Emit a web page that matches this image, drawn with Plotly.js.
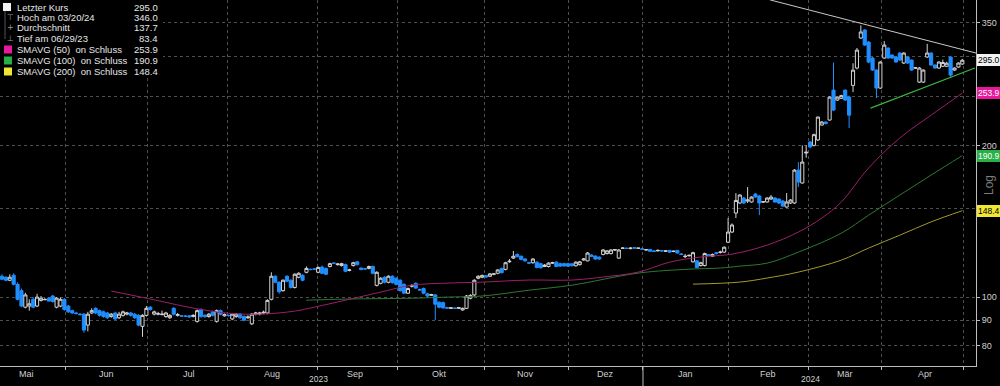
<!DOCTYPE html>
<html><head><meta charset="utf-8">
<script src="https://cdn.plot.ly/plotly-3.0.1.min.js"></script>
<style>html,body{margin:0;padding:0;background:#000;}#chart{width:1000px;height:386px;}</style>
</head><body><div id="chart"></div>
<script>
// Daily OHLC (trading-day index 0..246, early May 2023 .. end Apr 2024)
const openP = [110,109.5,108,110.5,106,103,95.5,96,99,96,98.5,98.8,99.5,100.5,95.5,96,99,
96,94,93,92.5,92.5,88,93,95,94,93.5,93,91.5,93,91,92,92.5,93,92.5,92,87.5,92,
95.5,92.5,92.5,92.3,91.5,91,95,92,91.8,91.7,91.8,91.5,89.5,94.5,92,91.5,93.5,89.5,94,91.8,
92,90.5,91.5,92.5,91.5,91,88.5,92.5,92.5,93,93,99,110,107,103,110,108,104.5,109.5,110.5,112,113.5,113.7,
112,114.7,114,115,116.8,116,115.5,116,113,115.5,117.5,114.2,113.8,114,115,105.5,106.5,109.5,107,110,
109,108,106,101.8,105,106.5,103.5,104,101.5,100.8,101,97.7,97.5,95.3,95,95.1,95,94.3,95,99.5,101,109,
109.5,110.3,110,111,111.5,114,113.5,117.5,119.5,121.5,120.5,119,117,117,117.3,116.5,115,115,116.8,117.3,116.5,116.5,
116.5,116.4,115.4,116,118.5,118,121.2,120.6,120,121.5,122,122,124,119.5,125,125,124.8,125.3,125,
124.6,124,124.3,123.5,123.5,123.6,123.3,123.8,123.2,123.8,121.8,120.3,120.8,117.5,118,115.5,115.5,121.3,120.5,122.5,122.7,122.8,
128.5,134.6,146.8,153.7,157.2,155.1,154.4,160.1,158.7,154.4,154.4,156.5,157.2,156.5,155.1,150.9,153.7,153.7,178.6,168.4,193.1,
203,200,205,219.4,222.5,224.5,257.4,246,248,257.4,249.3,263,284.7,326.6,338.8,320.6,298,282.1,259.8,
298,311.9,302.1,299.4,304.9,291.3,299.4,295.3,284.7,267,267,299.4,304.9,288.6,284.7,287,287,299.4,282.1,286,290];
const highP = [111,110,111,111.5,107,104,102,99,100,101.5,100.5,99.6,100,101,100,99.8,99.5,
96.5,94.5,93.5,93,93,93.5,95,95.5,94.5,94,93.5,93,93.5,93.5,94,93.5,93.5,93,92.5,92.5,96,
96,94,93.5,94,93.5,92.5,95.5,93,92,92,92,92.5,94.5,95,92.5,93,94,94.5,94.5,92.8,
92.3,93,93,93,92,92,93,93.5,93.5,94,99,112,110.5,107.5,108.5,110.5,108.5,111.5,112,111,115,114,114,
115,115.5,114.5,117,117,116.8,117,116.5,113.8,117.5,118,114.5,114,115.5,115.5,112.5,109.5,110,110.5,110.5,
109.5,108.5,106.5,104.5,106,107,104,104.5,102,101.5,101.5,98,98,95.6,95.5,95.3,95.6,95.3,101,101.3,108.5,110.5,
110.8,110.6,111.6,111.5,113.6,114.4,117.5,119,123.5,122,121,119.5,117.5,119.5,117.8,117,116.3,117.3,117.5,117.8,117,117,
117,116.8,117.8,118,119.5,122.8,121.6,121,120.5,124.5,124,124.5,124.5,124.5,125.5,125.3,125.5,125.6,125.3,
124.9,124.6,124.6,123.8,124.2,124,123.8,124,123.6,124,122.3,121.8,121.5,123,118.5,117.5,122.5,121.7,122,122.8,123.6,126,
143.5,140,160.8,160,158,165.3,158.5,160.8,159.4,155.1,157.9,159.4,157.9,157,155.8,160.8,156.5,179.5,185.3,200,200,
204,211,228,223.5,223,250,292,250,252,258,251,291,312,346,340,322,299.4,283,294,
322,313,303,300,306,306,300,296,286,286,283,318,306,289.5,293.5,296,293,300,285.5,292,297];
const lowP = [108,107.5,107.5,105.5,98.5,95.5,95,94,95,95.5,98,98.7,98,97.5,95,95.5,94,
93,92.5,92.3,92,85,85.5,92.5,92.5,91.5,91,90.5,91,90,90.5,91.5,92,91.5,90.5,87.5,83.4,91.5,
94,92,92,92,91,90.5,92,91.5,91.5,91.3,91,91.2,89,91,91,91,91.5,89,92,91.5,
91.5,90,91,90.5,89.5,90.5,88,92,92,92.5,92.5,98.5,106.5,101.5,102.5,107,104,104,109,107.5,111.5,113,113.2,
111.5,111,110.5,114.5,116.3,115.5,115,112,112.5,115,115.5,113,113.3,113.5,111,105,106,106.5,106.5,106.3,
105.5,102.5,101.5,101.5,104.5,103.8,103,101.3,100,100.5,90,95,94.8,94.8,94.7,94.8,94.7,94,94.8,99,100.5,108.5,
109,109.2,109.6,110.5,111,111.4,113,117,119,119.8,118.3,117.5,116.3,116.5,114,114,114.7,114.5,116.3,114.7,114.8,115,
114.8,115,115,115.5,118,117.8,120,118.6,118.5,121,121.5,121.5,123.5,119,124.6,124.6,124.4,124.8,124.7,
124.2,123.7,123,122.8,123.2,123.2,123,122.5,122.8,122,121.2,119.5,120.3,117,114,115,115,120.5,120.2,121.5,122,122.5,
128,134,143.5,153,153,153.7,154,157.5,145.4,153.7,154,156,154,153,151,150.5,153,153,165.3,168,189,
197.5,199,204,219,220,224,234,245,247,245,216.4,255,283,325,315,291,281,248.2,259,
297,297,297,292,294,290,290,281,283.5,266,266,298.5,288,284,284,286,286,273.2,281,285,289];
const closeP = [108.5,108,109.5,106,99,96,101,97,95.5,100,99.5,98.9,98.2,98,99.5,99,94.5,
93.5,93,92.8,92.3,86,92.5,94,93,92,91.5,91,92.5,90.5,92.5,93.5,93,92,91,88,92,95,
94.5,93.5,92.7,92.5,93,92,92.5,92.3,91.7,91.6,91.4,92,94,91.5,91.5,92.5,92,94,92.5,92.3,
91.9,92.5,92.5,91,90,91.3,92.5,93,93,93.3,98.5,110,107,102.5,108,107.5,104.5,111,111.5,108,114,113.4,113.6,
114.5,111.5,111,116.5,116.7,116.3,116.5,112.5,113.2,117,116,113.5,113.7,115,111.5,112,109,107,110,106.8,
106,103,101.8,104,105.5,104.2,103.3,101.8,100.5,101.2,96.8,95.5,95.2,95.1,95.2,95,95.3,95,100.5,100.8,108,110,
110.4,109.6,111.2,111.2,113.2,111.8,117,117.8,120.5,120.3,118.8,118,116.8,119,114.5,114.3,115.7,116.8,117,115,115.2,115.3,
115.2,115.4,117.3,117.5,119,122.3,120.4,119,119,124,123.5,124,124.2,124,125.1,124.9,125.1,125.1,125.05,
124.5,124.2,123.3,123.2,123.8,123.5,123.5,122.8,123.3,122.3,121.5,120.5,121,122.5,114.5,117,122,121,121.5,122,122.8,125.6,
134.6,139,155.5,159.4,153.7,155.8,157.9,158,153.7,154.6,157.2,157.9,154.4,153.7,151.6,154.4,155.8,178.6,169.1,185.3,193.8,
198.5,210,227.6,222.5,221,249.3,235,249.3,251,246,229.6,282,309,335.7,316.2,292.6,282.1,259.8,292.6,
316.2,298,298,292.6,295.3,304.9,291.3,282.1,285,284.7,282.1,304.9,288.6,284.7,292.6,292,291,275.7,284.7,291.3,295];
const dayIdx = closeP.map((_, i) => i);

// Moving averages (trading-day index, value)
const ma50X = [28,37,41,49,58,66,75,80,88,97,105,114,123,135,146,154,163,171,179,187,196,204,210,215,222,230,238,246];
const ma50Y = [102.8,99.5,98,95.1,92.9,92.5,93.8,95.5,98.6,102.3,105.6,106.6,107.1,108.1,108.1,109.6,112.1,117.3,120.1,121.7,126.8,134.6,143.5,154.4,180.4,206.9,229.6,253.9];
const ma100X = [78,88,105,114,123,135,146,163,176,184,189,196,204,215,222,230,238,246];
const ma100Y = [98.6,99.1,99.5,100,100.5,103.2,105.6,111.6,113.6,114.2,115.2,116.8,122.8,133.9,145.4,159.4,174.6,190.9];
const ma200X = [177,189,196,204,215,222,230,238,246];
const ma200Y = [106.1,107.1,109.1,112.1,118.4,125.1,132.7,141,148.4];

// Trend lines
const trendUpX = [196.7, 249.5];
const trendUpY = [388.8, 304.9];
const trendLowX = [222.5, 249.2];
const trendLowY = [237.1, 284.7];

// Axis labels
const monthLabels = ['Mai','Jun','Jul','Aug','Sep','Okt','Nov','Dez','Jan','Feb','Mär','Apr'];
const monthBounds = [16.4,37.2,57.9,80.7,101.4,123.5,145,164.2,186,206.7,225.4,246.4];
const monthMid = [6.2,26.9,47.9,69.2,90.4,112.2,134,154.5,175,196.2,216,236.4];
const yearLabels = ['2023','2024'];
const yearMid = [81,207];
const yTicks = [80,90,100,150,200,250,300,350];
const yTickText = ['80','90','100','','200','','','350'];

// Legend rows
const NB = '\u00a0';
const legendNames = ['Letzter Kurs','Hoch am 03/20/24','Durchschnitt','Tief am 06/29/23',
  'SMAVG (50)'+NB+NB+'on Schluss','SMAVG (100)'+NB+NB+'on Schluss','SMAVG (200)'+NB+NB+'on Schluss'];
const legendValues = ['295.0','346.0','137.7','83.4','253.9','190.9','148.4'];

const lastLabels = [
  {v:295.0, t:'295.0', bg:'#f2f2f2', fc:'#000'},
  {v:253.9, t:'253.9', bg:'#e8189c', fc:'#fff'},
  {v:190.9, t:'190.9', bg:'#27b045', fc:'#fff'},
  {v:148.4, t:'148.4', bg:'#f0e634', fc:'#000'}
];

const FONT = 'Liberation Sans, Arial, sans-serif';
const W = 976, H = 366;
const traces = [
  {type:'scatter', mode:'lines', x:ma200X, y:ma200Y, line:{color:'#a39a2c', width:1, shape:'spline'}, hoverinfo:'skip'},
  {type:'scatter', mode:'lines', x:ma100X, y:ma100Y, line:{color:'#2b7a2f', width:1, shape:'spline'}, hoverinfo:'skip'},
  {type:'scatter', mode:'lines', x:ma50X, y:ma50Y, line:{color:'#9c1f6b', width:1, shape:'spline'}, hoverinfo:'skip'},
  {type:'candlestick', x:dayIdx, open:openP, high:highP, low:lowP, close:closeP,
   increasing:{line:{color:'#d4d4d4', width:1}, fillcolor:'#000000'},
   decreasing:{line:{color:'#1f8fff', width:1}, fillcolor:'#1f8fff'},
   whiskerwidth:0, hoverinfo:'skip'},
  {type:'scatter', mode:'lines', x:trendUpX, y:trendUpY, line:{color:'#c8c8c8', width:1}, hoverinfo:'skip'},
  {type:'scatter', mode:'lines', x:trendLowX, y:trendLowY, line:{color:'#3cb43c', width:1.2}, hoverinfo:'skip'}
];

const annotations = [];
monthLabels.forEach((m,i)=>annotations.push({xref:'x', yref:'paper', x:monthMid[i], y:0, yanchor:'top', yshift:-1, text:m, showarrow:false, font:{family:FONT, size:9, color:'#cfcfcf'}}));
yearLabels.forEach((m,i)=>annotations.push({xref:'x', yref:'paper', x:yearMid[i], y:-20/H, yanchor:'bottom', yshift:0, text:m, showarrow:false, font:{family:FONT, size:8.5, color:'#cfcfcf'}}));
lastLabels.forEach(l=>annotations.push({xref:'paper', yref:'y', x:1, y:Math.log10(l.v), xanchor:'left', xshift:1, text:l.t, showarrow:false, bgcolor:l.bg, bordercolor:l.bg, borderpad:0, font:{family:FONT, size:8.5, color:l.fc}}));
annotations.push({xref:'paper', yref:'paper', x:1, y:1-185/H, xanchor:'center', xshift:13, text:'Log', textangle:-90, showarrow:false, font:{family:FONT, size:12, color:'#7d7d7d'}});
const rowY = [7,17.5,28,38.5,49.5,60.5,71.5];
legendNames.forEach((n,i)=>{
  annotations.push({xref:'paper', yref:'paper', x:15/W, y:1-rowY[i]/H, xanchor:'left', yanchor:'middle', text:n, showarrow:false, font:{family:FONT, size:9.5, color:'#e6e6e6'}});
  annotations.push({xref:'paper', yref:'paper', x:160/W, y:1-rowY[i]/H, xanchor:'right', yanchor:'middle', text:legendValues[i], showarrow:false, font:{family:FONT, size:9.5, color:'#e6e6e6'}});
});
['⊤','+','⊥'].forEach((g,i)=>annotations.push({xref:'paper', yref:'paper', x:10/W, y:1-rowY[i+1]/H, xanchor:'center', yanchor:'middle', text:g, showarrow:false, font:{family:'DejaVu Sans', size:8, color:'#9a9a9a'}}));

const sq = (x0,py,c)=>({type:'rect', xref:'paper', yref:'paper', x0:x0/W, x1:(x0+8)/W, y0:1-(py+4)/H, y1:1-(py-4)/H, fillcolor:c, line:{width:0}, layer:'above'});
const shapes = [
  {type:'rect', xref:'paper', yref:'paper', x0:0, x1:163/W, y0:1-78/H, y1:1, fillcolor:'#000', line:{width:0}, layer:'above'},
  {type:'line', xref:'paper', yref:'paper', x0:5/W, x1:5/W, y0:1-11/H, y1:1-39/H, line:{color:'#555', width:1}, layer:'above'},
  sq(3,rowY[0],'#f2f2f2'), sq(4,rowY[4],'#e8189c'), sq(4,rowY[5],'#27b045'), sq(4,rowY[6],'#f0e634'),
  {type:'line', xref:'x', yref:'paper', x0:164.2, x1:164.2, y0:0, y1:-20/H, line:{color:'#bdbdbd', width:1}}
];

const layout = {
  width:1000, height:386,
  paper_bgcolor:'#000', plot_bgcolor:'#000',
  margin:{l:0, r:24, t:0, b:20, pad:0},
  showlegend:false,
  boxgap:0.2, boxgroupgap:0,
  xaxis:{type:'linear', range:[-0.5,249.5], rangeslider:{visible:false}, tickvals:monthBounds, ticktext:monthBounds.map(()=>''),
    showgrid:true, gridcolor:'#4f4f4f', griddash:'dot', gridwidth:1, showline:true, linecolor:'#bdbdbd', linewidth:1,
    ticks:'outside', ticklen:3, tickcolor:'#bdbdbd', zeroline:false, fixedrange:true, automargin:false},
  yaxis:{type:'log', side:'right', range:[Math.log10(73.0), Math.log10(388.5)], tickvals:yTicks, ticktext:yTickText,
    showgrid:true, gridcolor:'#4f4f4f', griddash:'dot', gridwidth:1, showline:true, linecolor:'#bdbdbd', linewidth:1,
    ticks:'outside', ticklen:3, tickcolor:'#bdbdbd', tickfont:{family:FONT, size:9, color:'#cfcfcf'}, zeroline:false, automargin:false},
  annotations: annotations,
  shapes: shapes
};
Plotly.newPlot('chart', traces, layout, {staticPlot:true, displayModeBar:false});
</script></body></html>
